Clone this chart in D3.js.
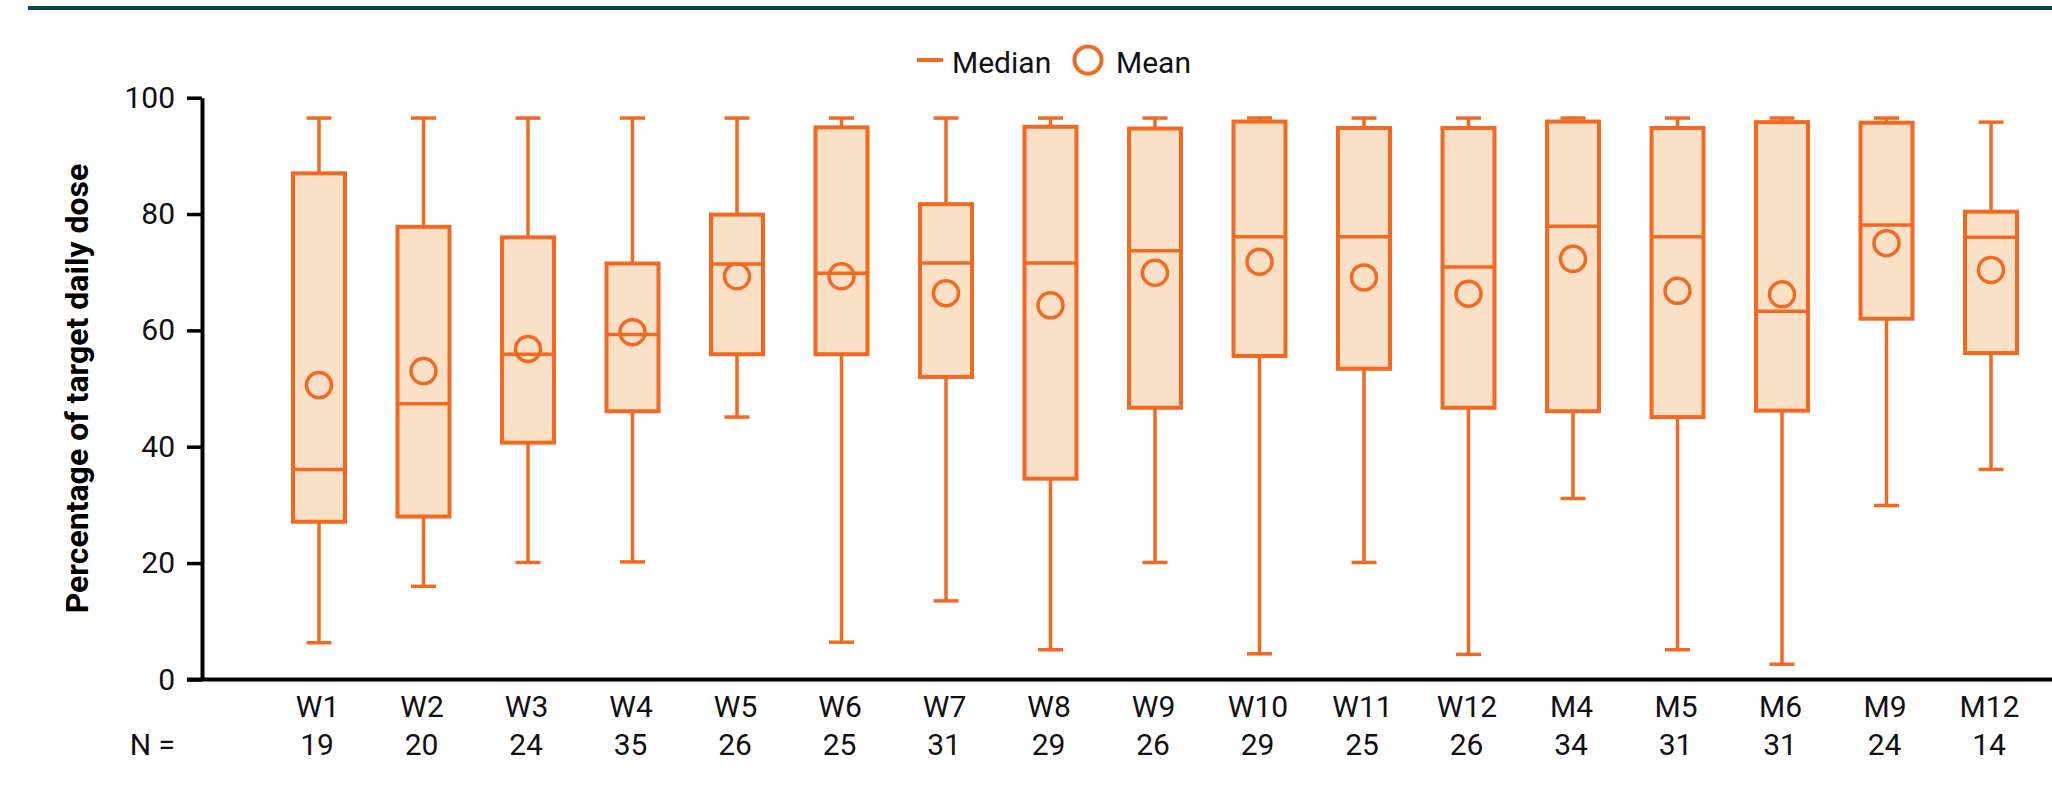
<!DOCTYPE html>
<html>
<head>
<meta charset="utf-8">
<script src="https://cdn.jsdelivr.net/npm/d3@7"></script>
<style>
  body { margin: 0; background: #fff; }
  svg { display: block; }
  text { font-family: Roboto, "Noto Sans", sans-serif; }
</style>
</head>
<body>
<svg id="chart" width="2052" height="787"></svg>
<script>
// categories and their sample sizes
const visits = ['W1','W2','W3','W4','W5','W6','W7','W8','W9','W10','W11','W12','M4','M5','M6','M9','M12'];
const nCounts = [19, 20, 24, 35, 26, 25, 31, 29, 26, 29, 25, 26, 34, 31, 31, 24, 14];

// box plot statistics, % of target daily dose
const whiskerHigh = [96.5, 96.5, 96.5, 96.5, 96.5, 96.5, 96.5, 96.5, 96.5, 96.5, 96.5, 96.5, 96.5, 96.5, 96.5, 96.5, 95.8];
const q3     = [87.0, 77.8, 76.0, 71.5, 79.9, 94.9, 81.7, 95.0, 94.7, 95.9, 94.8, 94.8, 95.9, 94.8, 95.8, 95.7, 80.4];
const median = [36.1, 47.4, 55.9, 59.3, 71.4, 69.8, 71.6, 71.6, 73.7, 76.1, 76.1, 70.9, 77.9, 76.1, 63.3, 78.1, 76.0];
const mean   = [50.6, 53.0, 56.8, 59.7, 69.3, 69.3, 66.4, 64.3, 69.9, 71.8, 69.1, 66.3, 72.3, 66.8, 66.2, 75.0, 70.4];
const q1     = [27.1, 28.0, 40.7, 46.1, 55.9, 55.9, 52.0, 34.5, 46.7, 55.6, 53.4, 46.7, 46.1, 45.1, 46.2, 62.0, 56.1];
const whiskerLow = [6.3, 16.0, 20.1, 20.2, 45.1, 6.4, 13.5, 5.1, 20.1, 4.4, 20.1, 4.3, 31.1, 5.1, 2.6, 29.9, 36.1];

const yTicks = [0, 20, 40, 60, 80, 100];

const data = visits.map((v, i) => ({
    visit: v, n: nCounts[i], hi: whiskerHigh[i], q3: q3[i],
    med: median[i], mean: mean[i], q1: q1[i], lo: whiskerLow[i]
}));

const orange = '#f26a22';
const peach = '#fbe0c8';

const svg = d3.select('#chart');

const y = d3.scaleLinear().domain([0, 100]).range([679.4, 97.7]);
const x = d3.scalePoint().domain(visits).range([319, 1991]);

const boxW = 52, capW = 25;

// top rule
svg.append('line')
    .attr('x1', 28).attr('x2', 2052)
    .attr('y1', 8).attr('y2', 8)
    .attr('stroke', '#0d3f4d').attr('stroke-width', 4);

// y axis
const yAxis = svg.append('g')
    .attr('transform', 'translate(202,0)')
    .call(d3.axisLeft(y).tickValues(yTicks).tickSize(15).tickSizeOuter(0).tickPadding(12));
yAxis.select('.domain').attr('stroke', '#000').attr('stroke-width', 4);
yAxis.selectAll('.tick line').attr('stroke', '#000').attr('stroke-width', 3.5);
yAxis.selectAll('.tick text')
    .attr('font-family', 'Roboto, sans-serif')
    .attr('font-size', 30).attr('fill', '#111');

// x axis baseline (runs off the right edge like the original)
svg.append('line')
    .attr('x1', 187).attr('x2', 2052)
    .attr('y1', y(0)).attr('y2', y(0))
    .attr('stroke', '#000').attr('stroke-width', 4);

// category labels
const xAxis = svg.append('g')
    .attr('transform', `translate(-2,${y(0)})`)
    .call(d3.axisBottom(x).tickSize(0).tickPadding(16));
xAxis.select('.domain').remove();
xAxis.selectAll('.tick text')
    .attr('font-family', 'Roboto, sans-serif')
    .attr('font-size', 30).attr('fill', '#111');

// N row
svg.append('text')
    .attr('x', 175).attr('y', 755)
    .attr('text-anchor', 'end')
    .attr('font-size', 30).attr('fill', '#111')
    .text('N =');
svg.append('g').selectAll('text')
    .data(data).enter().append('text')
    .attr('x', d => x(d.visit) - 2)
    .attr('y', 755)
    .attr('text-anchor', 'middle')
    .attr('font-size', 30).attr('fill', '#111')
    .text(d => d.n);

// y axis title
svg.append('text')
    .attr('transform', `translate(87.5,${(y(0) + y(100)) / 2}) rotate(-90)`)
    .attr('text-anchor', 'middle')
    .attr('font-family', '"Liberation Sans", Arial, sans-serif')
    .attr('font-weight', 'bold')
    .attr('font-size', 32)
    .attr('fill', '#000')
    .text('Percentage of target daily dose');

// boxes
const box = svg.append('g').selectAll('g.box')
    .data(data).enter().append('g')
    .attr('class', 'box')
    .attr('transform', d => `translate(${x(d.visit)},0)`);

box.append('line')
    .attr('x1', 0).attr('x2', 0)
    .attr('y1', d => y(d.hi)).attr('y2', d => y(d.lo))
    .attr('stroke', orange).attr('stroke-width', 3.5);

box.append('line')
    .attr('x1', -capW / 2).attr('x2', capW / 2)
    .attr('y1', d => y(d.hi)).attr('y2', d => y(d.hi))
    .attr('stroke', orange).attr('stroke-width', 3.5);

box.append('line')
    .attr('x1', -capW / 2).attr('x2', capW / 2)
    .attr('y1', d => y(d.lo)).attr('y2', d => y(d.lo))
    .attr('stroke', orange).attr('stroke-width', 3.5);

box.append('rect')
    .attr('x', -boxW / 2).attr('width', boxW)
    .attr('y', d => y(d.q3))
    .attr('height', d => y(d.q1) - y(d.q3))
    .attr('fill', peach).attr('stroke', orange).attr('stroke-width', 4);

box.append('line')
    .attr('x1', -boxW / 2).attr('x2', boxW / 2)
    .attr('y1', d => y(d.med)).attr('y2', d => y(d.med))
    .attr('stroke', orange).attr('stroke-width', 3.5);

box.append('circle')
    .attr('cx', 0).attr('cy', d => y(d.mean))
    .attr('r', 12.5)
    .attr('fill', 'none').attr('stroke', orange).attr('stroke-width', 3.5);

// legend
const legend = svg.append('g');
legend.append('line')
    .attr('x1', 917).attr('x2', 943)
    .attr('y1', 60).attr('y2', 60)
    .attr('stroke', orange).attr('stroke-width', 4);
legend.append('text')
    .attr('x', 952).attr('y', 72.5)
    .attr('font-size', 30).attr('fill', '#111')
    .text('Median');
legend.append('circle')
    .attr('cx', 1088).attr('cy', 60).attr('r', 13.5)
    .attr('fill', 'none').attr('stroke', orange).attr('stroke-width', 4);
legend.append('text')
    .attr('x', 1116).attr('y', 72.5)
    .attr('font-size', 30).attr('fill', '#111')
    .text('Mean');
</script>
</body>
</html>
